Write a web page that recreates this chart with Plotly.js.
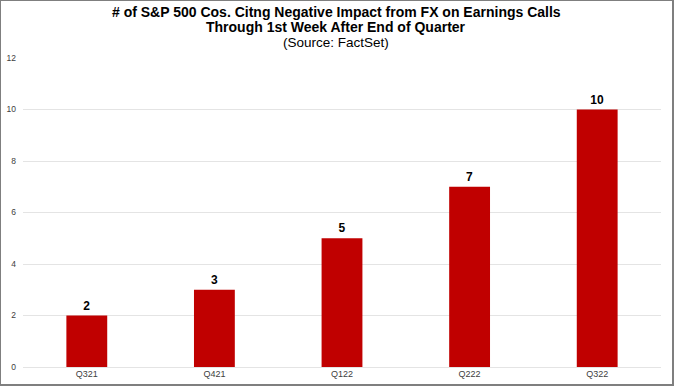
<!DOCTYPE html>
<html>
<head>
<meta charset="utf-8">
<script src="https://cdn.plot.ly/plotly-3.0.1.min.js"></script>
<style>
html,body{margin:0;padding:0;background:#fff;}
#chart{width:674px;height:386px;box-sizing:border-box;border:1.5px solid #7f7f7f;border-right-width:2px;border-bottom-width:2px;}
</style>
</head>
<body>
<div id="chart"></div>
<script>
const quarters = ["Q321", "Q421", "Q122", "Q222", "Q322"];
const companies = [2, 3, 5, 7, 10];
const yTicks = [0, 2, 4, 6, 8, 10, 12];
const titleLines = [
  "# of S&P 500 Cos. Citng Negative Impact from FX on Earnings Calls",
  "Through 1st Week After End of Quarter",
  "(Source: FactSet)"
];

const font = "Liberation Sans, Arial, sans-serif";

const trace = {
  type: "bar",
  x: quarters,
  y: companies,
  width: 0.32,
  marker: {color: "#C00000"},
  text: companies.map(String),
  textposition: "outside",
  cliponaxis: false,
  textfont: {family: font, size: 12, color: "#000", weight: "bold"},
  hoverinfo: "none"
};

const W = 670, ml = 22, mr = 10;
const centerFrac = (W / 2 - ml) / (W - ml - mr);
const shifts = [46.5, 31, 15.5];

const annotations = titleLines.map((t, i) => ({
  text: i < 2 ? "<b>" + t + "</b>" : t,
  xref: "paper", yref: "paper",
  x: centerFrac, y: 1,
  xanchor: "center", yanchor: "middle",
  yshift: shifts[i],
  showarrow: false,
  font: {family: font, size: i < 2 ? 14 : 13.5, color: "#000"}
}));

const layout = {
  width: W,
  height: 382,
  margin: {l: ml, r: mr, t: 57, b: 16},
  paper_bgcolor: "#fff",
  plot_bgcolor: "#fff",
  showlegend: false,
  annotations: annotations,
  xaxis: {
    type: "category",
    range: [-0.5, 4.5],
    showgrid: false,
    showline: false,
    ticks: "",
    tickfont: {family: font, size: 9, color: "#404040"}
  },
  yaxis: {
    range: [0, 12],
    tickvals: yTicks,
    ticktext: yTicks.map(String),
    showgrid: true,
    gridcolor: "#e4e4e4",
    gridwidth: 1,
    zeroline: true,
    zerolinecolor: "#e4e4e4",
    zerolinewidth: 1,
    showline: false,
    ticks: "",
    ticklabelstandoff: 6,
    tickfont: {family: font, size: 8.5, color: "#404040"}
  }
};

Plotly.newPlot("chart", [trace], layout, {displayModeBar: false, staticPlot: true});
</script>
</body>
</html>
